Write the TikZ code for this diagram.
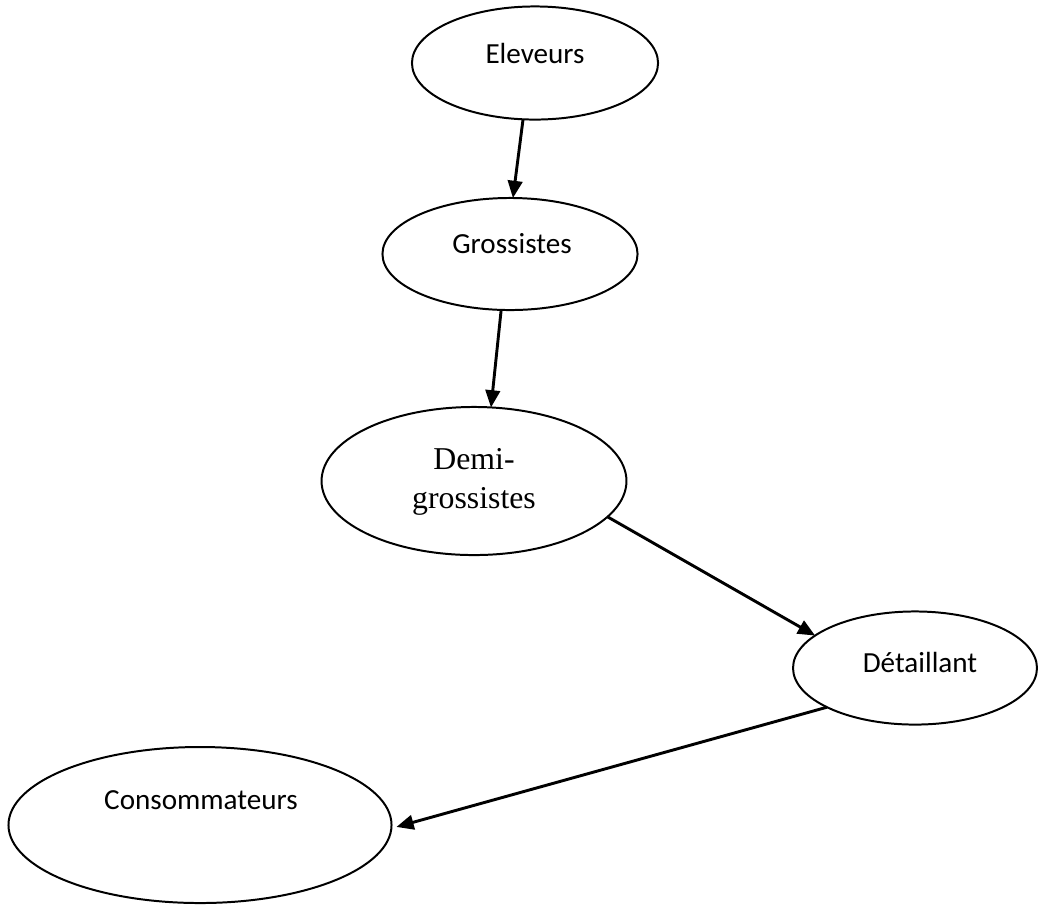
\documentclass[tikz,border=0pt]{standalone}
\usepackage{fontspec}
\setmainfont{Carlito}
\newfontfamily\timesfont{Liberation Serif}
\usepackage{tikz}
\usetikzlibrary{arrows.meta,shapes.geometric}
\tikzset{
    market-node/.style = {draw=black, line width=0.75pt, ellipse, inner sep=0pt, outer sep=0pt},
    market-label/.style = {anchor=base, inner sep=0pt, font=\fontsize{11}{13}\selectfont},
    flow-arrow/.style = {line width=1.1pt, -{Triangle[length=6.5pt, width=5.5pt]}},
}
\begin{document}
\begin{tikzpicture}[x=0.3775pt, y=-0.3775pt]
\useasboundingbox (0,0) rectangle (1038,904);
\node[market-node, minimum width=92.9pt, minimum height=42.7pt] (eleveurs) at (535,63) {};
\node[market-node, minimum width=96.3pt, minimum height=42.3pt] (grossistes) at (510,254) {};
\node[market-node, minimum width=115.1pt, minimum height=55.9pt] (demi) at (474,481) {};
\node[market-node, minimum width=92.1pt, minimum height=42.7pt] (detail) at (915,668) {};
\node[market-node, minimum width=144.6pt, minimum height=58.9pt] (conso) at (200,825) {};
\node[market-label] (eleveurs-txt) at (535,63) {Eleveurs};
\node[market-label] (grossistes-txt) at (512,253) {Grossistes};
\node[inner sep=0pt, align=center, font=\timesfont\fontsize{12}{15}\selectfont] (demi-txt) at (474,482) {Demi-\\grossistes};
\node[market-label] (detail-txt) at (920,672) {Détaillant};
\node[market-label] (conso-txt) at (201,809) {Consommateurs};
\draw[flow-arrow] (eleveurs.258) -- (grossistes.87);
\draw[flow-arrow] (grossistes.261) -- (demi.77);
\draw[flow-arrow] (demi.345) -- (detail.162);
\draw[flow-arrow, shorten >=2pt] (detail.204) -- (conso.-1);
\end{tikzpicture}
\end{document}
